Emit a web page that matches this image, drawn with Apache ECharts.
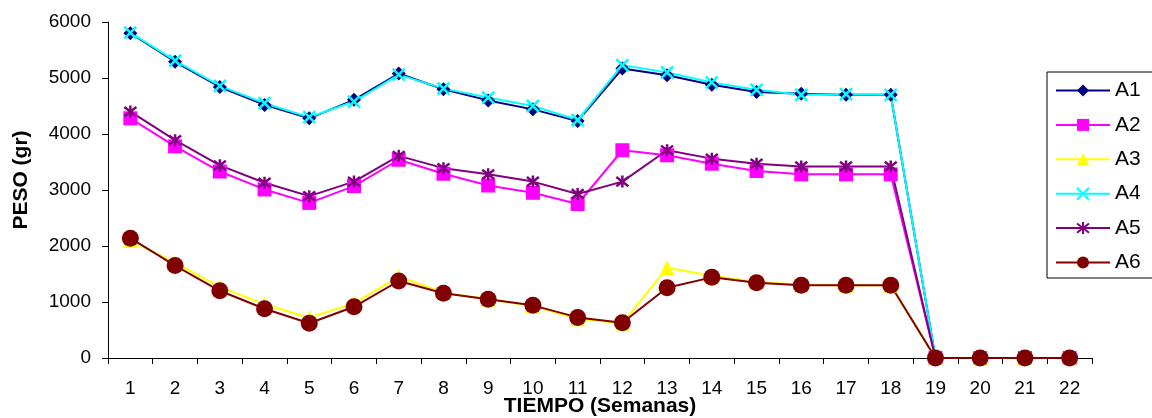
<!DOCTYPE html>
<html>
<head>
<meta charset="utf-8">
<script src="https://cdn.jsdelivr.net/npm/echarts@6/dist/echarts.min.js"></script>
<style>
html,body{margin:0;padding:0;background:#fff;overflow:hidden;}
#c{width:1152px;height:418px;}
</style>
</head>
<body>
<div id="c"></div>
<script>
var categories = ['1','2','3','4','5','6','7','8','9','10','11','12','13','14','15','16','17','18','19','20','21','22'];
var A1 = [5800,5290,4840,4520,4280,4610,5080,4800,4600,4440,4230,5170,5050,4880,4750,4720,4700,4700,0,0,0,0];
var A2 = [4280,3780,3330,3010,2770,3070,3540,3290,3080,2950,2750,3710,3620,3470,3340,3280,3280,3280,0,0,0,0];
var A3 = [2100,1700,1270,960,720,980,1450,1170,1050,930,700,620,1610,1470,1360,1310,1300,1300,0,0,0,0];
var A4 = [5810,5310,4860,4550,4300,4580,5060,4810,4650,4500,4250,5230,5100,4920,4790,4700,4710,4700,0,0,0,0];
var A5 = [4400,3890,3440,3130,2890,3150,3610,3390,3280,3150,2930,3150,3710,3560,3470,3420,3420,3420,0,0,0,0];
var A6 = [2140,1650,1200,880,620,915,1375,1155,1050,940,725,630,1255,1440,1345,1300,1300,1300,0,0,0,0];
var yTicks = [0,1000,2000,3000,4000,5000,6000];

var FONT = 'Liberation Sans, Arial, sans-serif';
var xPath = 'path://M0,0L10,10M10,0L0,10';
var starPath = 'path://M0,0L10,10M10,0L0,10M5,-1.5L5,11.5';

function mk(name, data, color, symbol, size, strokeSym) {
  var s = {
    name: name, type: 'line', data: data,
    symbol: symbol, symbolSize: size,
    lineStyle: {color: color, width: 2},
    itemStyle: {color: color},
    emphasis: {disabled: true},
    animation: false
  };
  if (strokeSym) {
    s.itemStyle = {color: 'none', borderColor: color, borderWidth: 2.5};
  }
  return s;
}

var chart = echarts.init(document.getElementById('c'), null, {width: 1152, height: 418});
chart.setOption({
  animation: false,
  textStyle: {fontFamily: FONT},
  grid: {left: 108, right: 60, top: 22, bottom: 60, containLabel: false, outerBoundsMode: 'none'},
  legend: {
    orient: 'vertical', left: 1047, top: 72,
    data: ['A1','A2','A3','A4','A5','A6'],
    itemWidth: 54, itemHeight: 15, itemGap: 13.4,
    padding: [8, 18, 5, 8],
    borderColor: '#000', borderWidth: 1,
    textStyle: {fontSize: 21, color: '#000', fontFamily: FONT, lineHeight: 21}
  },
  xAxis: {
    type: 'category', data: categories, boundaryGap: true,
    name: 'TIEMPO (Semanas)', nameLocation: 'middle', nameGap: 38, nameMoveOverlap: false,
    nameTextStyle: {fontSize: 21, fontWeight: 'bold', color: '#000', fontFamily: FONT},
    axisLine: {lineStyle: {color: '#000', width: 1}},
    axisTick: {show: true, length: 6, lineStyle: {color: '#000'}},
    axisLabel: {fontSize: 19, color: '#000', margin: 21, fontFamily: FONT},
    splitLine: {show: false}
  },
  yAxis: {
    type: 'value', min: yTicks[0], max: yTicks[yTicks.length-1], interval: 1000,
    name: 'PESO (gr)', nameLocation: 'middle', nameGap: 76, nameMoveOverlap: false,
    nameTextStyle: {fontSize: 21, fontWeight: 'bold', color: '#000', fontFamily: FONT, padding: [0,0,0,20]},
    axisLine: {show: true, lineStyle: {color: '#000', width: 1}},
    axisTick: {show: true, length: 6, lineStyle: {color: '#000'}},
    axisLabel: {fontSize: 19, color: '#000', margin: 17, fontFamily: FONT,
      formatter: function (v) { return String(v); }},
    splitLine: {show: false}
  },
  series: [
    mk('A1', A1, '#000080', 'diamond', 14),
    mk('A2', A2, '#FF00FF', 'rect', 14),
    mk('A3', A3, '#FFFF00', 'triangle', 15),
    mk('A4', A4, '#00FFFF', xPath, 12, true),
    mk('A5', A5, '#800080', starPath, 12, true),
    mk('A6', A6, '#800000', 'circle', 17)
  ]
});
</script>
</body>
</html>
